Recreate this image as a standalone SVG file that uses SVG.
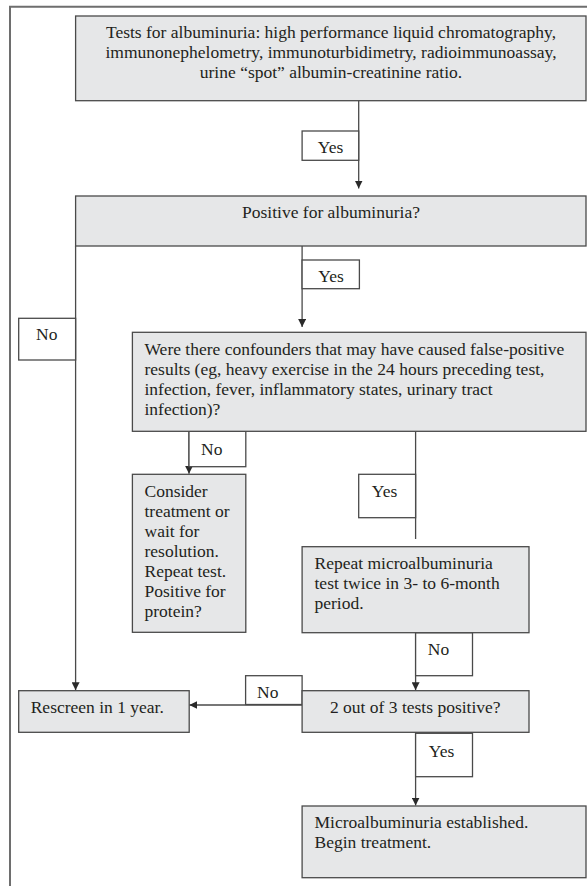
<svg xmlns="http://www.w3.org/2000/svg" width="587" height="886" viewBox="0 0 587 886">
<defs>
<style>
.box{fill:#e6e7e8;stroke:#4a4a4a;stroke-width:1.3}
.lbl{fill:#ffffff;stroke:#4a4a4a;stroke-width:1.3}
.edge{fill:none;stroke:#4a4a4a;stroke-width:1.3}
.frame{fill:none;stroke:#6e6e6e;stroke-width:2}
text{font-family:"Liberation Serif","Times New Roman",serif;font-size:17.5px;fill:#231f20}
.c{text-anchor:middle}
</style>
<marker id="arr" viewBox="0 0 10 10" refX="10" refY="5" markerWidth="8" markerHeight="8" markerUnits="userSpaceOnUse" orient="auto">
<path d="M0,0 L10,5 L0,10 Z" fill="#2a2a2a"/>
</marker>
</defs>
<rect width="587" height="886" fill="#ffffff"/>
<path class="frame" d="M10,900 V6.7 H600"/>

<g id="connectors">
<line class="edge" x1="358.7" y1="100.7" x2="358.7" y2="188.5" marker-end="url(#arr)"/>
<line class="edge" x1="302.1" y1="246" x2="302.1" y2="327" marker-end="url(#arr)"/>
<line class="edge" x1="75.6" y1="246" x2="75.6" y2="690.2" marker-end="url(#arr)"/>
<line class="edge" x1="189" y1="431.3" x2="189" y2="473.8" marker-end="url(#arr)"/>
<line class="edge" x1="415.6" y1="431.3" x2="415.6" y2="539"/>
<line class="edge" x1="415.6" y1="632.7" x2="415.6" y2="690.2" marker-end="url(#arr)"/>
<line class="edge" x1="302.1" y1="705" x2="189.3" y2="705" marker-end="url(#arr)"/>
<line class="edge" x1="415.6" y1="732.3" x2="415.6" y2="805.5" marker-end="url(#arr)"/>
<g id="edge-labels">
<rect class="lbl" x="302.1" y="131" width="56.6" height="29.3"/>
<text class="c" x="330.6" y="153">Yes</text>
<rect class="lbl" x="302.1" y="260" width="57.3" height="28.7"/>
<text class="c" x="331" y="282">Yes</text>
<rect class="lbl" x="18.7" y="318.3" width="56.9" height="41.7"/>
<text class="c" x="46.8" y="340">No</text>
<rect class="lbl" x="189" y="431.3" width="56.8" height="35.4"/>
<text class="c" x="211.8" y="455">No</text>
<rect class="lbl" x="358.7" y="474.3" width="56.9" height="43.4"/>
<text class="c" x="384.5" y="497">Yes</text>
<rect class="lbl" x="415.6" y="632.7" width="56.9" height="43"/>
<text class="c" x="438.5" y="655">No</text>
<rect class="lbl" x="245.6" y="675.7" width="56.5" height="28.8"/>
<text class="c" x="267.8" y="697.7">No</text>
<rect class="lbl" x="415.6" y="733.3" width="56.9" height="43.4"/>
<text class="c" x="441.5" y="756.5">Yes</text>
</g>
</g>

<g id="tests">
<rect class="box" x="75.6" y="16" width="510.4" height="84.7"/>
<text class="c" x="331" y="37.8">Tests for albuminuria: high performance liquid chromatography,</text>
<text class="c" x="331" y="58.2">immunonephelometry, immunoturbidimetry, radioimmunoassay,</text>
<text class="c" x="331" y="78.4">urine “spot” albumin-creatinine ratio.</text>
</g>

<g id="positive">
<rect class="box" x="75.6" y="196" width="510.4" height="50"/>
<text class="c" x="331" y="218.3">Positive for albuminuria?</text>
</g>

<g id="confounders">
<rect class="box" x="132.4" y="332.3" width="453.6" height="99"/>
<text x="144.5" y="355.3">Were there confounders that may have caused false-positive</text>
<text x="144.5" y="375.3">results (eg, heavy exercise in the 24 hours preceding test,</text>
<text x="144.5" y="395.2">infection, fever, inflammatory states, urinary tract</text>
<text x="144.5" y="414.8">infection)?</text>
</g>

<g id="consider">
<rect class="box" x="132.4" y="474.3" width="113.4" height="158"/>
<text x="144.5" y="496.6">Consider</text>
<text x="144.5" y="517">treatment or</text>
<text x="144.5" y="537">wait for</text>
<text x="144.5" y="557">resolution.</text>
<text x="144.5" y="577">Repeat test.</text>
<text x="144.5" y="597">Positive for</text>
<text x="144.5" y="617">protein?</text>
</g>

<g id="repeat">
<rect class="box" x="302.1" y="546.7" width="226.9" height="86"/>
<text x="314.5" y="568.5">Repeat microalbuminuria</text>
<text x="314.5" y="589">test twice in 3- to 6-month</text>
<text x="314.5" y="609.3">period.</text>
</g>

<g id="two-of-three">
<rect class="box" x="302.1" y="690.7" width="226.9" height="41.6"/>
<text class="c" x="415.3" y="713.2">2 out of 3 tests positive?</text>
</g>

<g id="rescreen">
<rect class="box" x="18.7" y="690.7" width="170.5" height="41.6"/>
<text x="30.7" y="713.2">Rescreen in 1 year.</text>
</g>

<g id="established">
<rect class="box" x="302.1" y="806" width="283.9" height="71.7"/>
<text x="314.5" y="828.3">Microalbuminuria established.</text>
<text x="314.5" y="848.3">Begin treatment.</text>
</g>
</svg>
